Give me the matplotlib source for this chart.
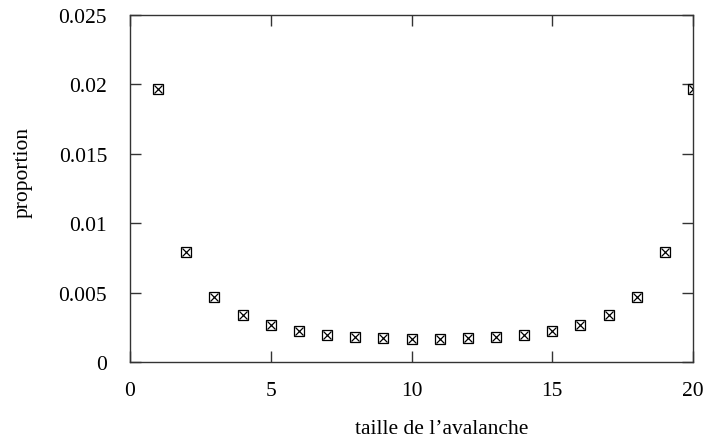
import matplotlib
matplotlib.use("Agg")
import matplotlib.pyplot as plt

taille = [1, 2, 3, 4, 5, 6, 7, 8, 9, 10, 11, 12, 13, 14, 15, 16, 17, 18, 19, 20]
proportion = [0.0197, 0.0079, 0.0047, 0.00336, 0.00267, 0.00222, 0.00196, 0.00180,
              0.00170, 0.00166, 0.00166, 0.00170, 0.00180, 0.00196, 0.00222,
              0.00267, 0.00336, 0.0047, 0.0079, 0.0197]
xticks = [0, 5, 10, 15, 20]
yticks = [0, 0.005, 0.01, 0.015, 0.02, 0.025]
ytick_labels = ["0", "0.005", "0.01", "0.015", "0.02", "0.025"]

plt.rcParams['font.family'] = ['Liberation Serif', 'DejaVu Serif']
FS = 15.5

fig = plt.figure(figsize=(7.04, 4.39), dpi=100)
ax = fig.add_axes([130/704, 1-363/439, (693-130)/704, (363-16)/439])

ax.plot(taille, proportion, linestyle='none', marker='s', markersize=7,
        markerfacecolor='none', markeredgecolor='black', markeredgewidth=0.9)
ax.plot(taille, proportion, linestyle='none', marker='x', markersize=6,
        markeredgecolor='black', markeredgewidth=0.9)

ax.set_xlim(0, 20)
ax.set_ylim(0, 0.025)
ax.set_xticks(xticks)
ax.set_xticklabels([str(v) for v in xticks])
ax.set_yticks(yticks)
ax.set_yticklabels(ytick_labels)
ax.tick_params(direction='in', length=8, width=1, labelsize=FS,
               top=True, right=True, color='#333333')
ax.tick_params(axis='x', pad=14)
ax.tick_params(axis='y', pad=16.5)
for s in ax.spines.values():
    s.set_linewidth(1.0)
    s.set_color('#333333')

fig.text(442/704, 1-434/439, "taille de l\u2019avalanche", ha='center', va='baseline', fontsize=FS)
fig.text(23/704, 1-172/439, "proportion", ha='center', va='center', rotation=90, fontsize=FS)

fig.savefig("out.png", dpi=100)
